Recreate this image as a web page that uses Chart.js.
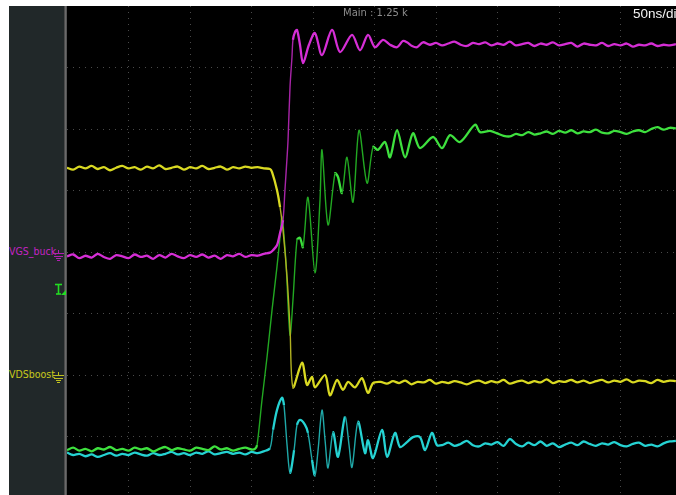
<!DOCTYPE html>
<html>
<head>
<meta charset="utf-8">
<script src="https://cdn.jsdelivr.net/npm/chart.js@4/dist/chart.umd.min.js"></script>
<style>
  html, body { margin: 0; padding: 0; background: #fff; }
  body { width: 676px; height: 495px; position: relative; overflow: hidden; font-family: "DejaVu Sans", sans-serif; }
  #panel { position: absolute; left: 9px; top: 6px; width: 55px; height: 489px; background: #212829; }
  #sep { position: absolute; left: 64px; top: 6px; width: 3px; height: 489px; background: linear-gradient(to right, #3c3c3c, #6a6a6a, #4a4a4a); }
  #scope { position: absolute; left: 67px; top: 6px; width: 609px; height: 489px; background: #000; }
  #scopeChart { position: absolute; left: 0; top: 0; }
  .lbl { position: absolute; font-family: "DejaVu Sans Condensed", "DejaVu Sans", sans-serif; font-size: 10.5px; white-space: nowrap; }
  .info { position: absolute; white-space: nowrap; }
  svg.mark { position: absolute; }
</style>
</head>
<body>
<div id="panel"></div>
<div id="sep"></div>
<div id="scope"><canvas id="scopeChart" width="609" height="489"></canvas></div>

<div class="lbl" style="left:9px; top:245px; color:#c424c4;">VGS_buck</div>
<svg class="mark" style="left:53px; top:250px;" width="12" height="12">
  <g stroke="#b020b0" stroke-width="1">
    <line x1="5.5" y1="0" x2="5.5" y2="4"/>
    <line x1="0" y1="3.5" x2="11" y2="3.5"/>
    <line x1="1" y1="6.5" x2="10" y2="6.5"/>
    <line x1="3" y1="8.5" x2="8" y2="8.5"/>
    <line x1="4" y1="10.5" x2="7" y2="10.5"/>
  </g>
</svg>

<svg class="mark" style="left:54px; top:283px;" width="12" height="13">
  <g stroke="#22dd22" stroke-width="1.6" fill="none">
    <line x1="1" y1="1.5" x2="8" y2="1.5"/>
    <line x1="4.5" y1="1.5" x2="4.5" y2="11"/>
    <line x1="2" y1="11" x2="7" y2="11"/>
  </g>
  <polygon points="7,12 12,12 12,7" fill="#22dd22"/>
</svg>

<div class="lbl" style="left:9px; top:368px; color:#c8c81c;">VDSboost</div>
<svg class="mark" style="left:53px; top:372px;" width="12" height="12">
  <g stroke="#c0c020" stroke-width="1">
    <line x1="5.5" y1="0" x2="5.5" y2="4"/>
    <line x1="0" y1="3.5" x2="11" y2="3.5"/>
    <line x1="1" y1="6.5" x2="10" y2="6.5"/>
    <line x1="3" y1="8.5" x2="8" y2="8.5"/>
    <line x1="4" y1="10.5" x2="7" y2="10.5"/>
  </g>
</svg>

<div class="info" style="left:343px; top:7px; font-size:10px; color:#8c8c8c;">Main : 1.25 k</div>
<div class="info" style="left:633px; top:6px; font-family:'Liberation Sans', sans-serif; font-size:13.5px; color:#f4f4f4;">50ns/div</div>

<script>
// time base: 50 ns/div, 9.9 divisions visible
const X_MAX = 495.1;
const Y_MIN = 0.05;
const Y_MAX = 8;
const xGridNs = [50, 100, 150, 200, 250, 300, 350, 400, 450];
const yGridDiv = [1, 2, 3, 4, 5, 6, 7];

function steps(from, to, step) {
    const out = [];
    for (let t = from; t <= to + 1e-6; t += step) out.push(t);
    return out;
}

// VGS_buck (magenta), values in divisions
const magentaTimes = [
    ...steps(0, 165, 5),
    167.5, 170.7, 173.2, 175.6, 177.2, 178.9, 179.7, 181.3, 182.9, 183.7, 185.4, 187,
    189.4, 191.9, 196.7, 201.6, 207.3, 215.4, 222, 231.7, 238.2, 244.7, 250.4, 256.9,
    262.6, 268.3, 273, 276.4, 280.5, 284.6, 289.4, 295,
    ...steps(300, 495, 5)
];
const magentaValues = [
    3.93, 3.96, 3.90, 3.94, 3.91, 3.97, 3.92, 3.89, 3.95, 3.93, 3.90, 3.96, 3.92, 3.94, 3.89, 3.95, 3.91,
    3.97, 3.93, 3.90, 3.95, 3.92, 3.96, 3.91, 3.94, 3.89, 3.95, 3.93, 3.97, 3.92, 3.95, 3.94, 3.97, 3.99,
    4.03, 4.11, 4.31, 4.52, 5.01, 5.54, 5.82, 6.68, 7.17, 7.45, 7.58, 7.61,
    7.37, 7.07, 7.37, 7.56, 7.20, 7.61, 7.25, 7.53, 7.28, 7.53, 7.33, 7.45,
    7.37, 7.33, 7.43, 7.41, 7.35, 7.33, 7.41, 7.37,
    7.40, 7.36, 7.39, 7.42, 7.37, 7.35, 7.40, 7.38, 7.41, 7.36, 7.39, 7.37, 7.42, 7.36, 7.38, 7.40,
    7.35, 7.39, 7.37, 7.41, 7.36, 7.38, 7.40, 7.34, 7.39, 7.37, 7.36, 7.40, 7.35, 7.38, 7.36, 7.39,
    7.34, 7.37, 7.36, 7.39, 7.35, 7.37, 7.36, 7.38
];

// VDSboost (yellow)
const yellowTimes = [
    ...steps(0, 165, 5),
    166.7, 170.7, 173.2, 175.6, 178.9, 181.3, 183.7, 191.1, 195.1, 199.2, 201.6, 209.8,
    213.8, 219.5, 224.4, 228.5, 234.1, 239.8, 244.7, 248.8,
    ...steps(255, 495, 5)
];
const yellowValues = [
    5.37, 5.34, 5.39, 5.36, 5.40, 5.35, 5.38, 5.33, 5.37, 5.40, 5.36, 5.38, 5.34, 5.39, 5.36, 5.41, 5.35,
    5.37, 5.39, 5.34, 5.38, 5.36, 5.40, 5.35, 5.37, 5.39, 5.34, 5.38, 5.36, 5.39, 5.37, 5.38, 5.36, 5.35,
    5.30, 5.01, 4.73, 4.36, 3.59, 2.78, 1.80, 2.20, 1.84, 1.97, 1.80, 2.00,
    1.67, 1.92, 1.76, 1.89, 1.80, 1.95, 1.71, 1.87,
    1.89, 1.86, 1.90, 1.87, 1.91, 1.85, 1.89, 1.88, 1.92, 1.86, 1.89, 1.87, 1.90, 1.88, 1.85, 1.89,
    1.91, 1.87, 1.90, 1.88, 1.92, 1.86, 1.89, 1.91, 1.87, 1.90, 1.88, 1.93, 1.87, 1.90, 1.89, 1.92,
    1.88, 1.91, 1.87, 1.90, 1.92, 1.88, 1.91, 1.89, 1.93, 1.88, 1.91, 1.90, 1.87, 1.92, 1.89, 1.91,
    1.90
];

// green channel
const greenTimes = [
    ...steps(0, 150, 5),
    152.8, 154.5, 158.5, 162.6, 166.7, 170.7, 173.2, 174.8, 177.9, 181.3, 183.7, 187,
    189.4, 191.9, 195.9, 201.6, 205.7, 207.3, 212.2, 217.9, 220.3, 223.6, 227.6, 232.5,
    237.4, 243.9, 248.8, 252.8, 258.5, 262.6, 268.3, 274.8, 281.3, 287, 297.6, 304.9,
    311.4, 319.5, 331.7, 335.8, 343.9, 349.6, 355,
    ...steps(360, 495, 5)
];
const greenValues = [
    0.78, 0.82, 0.77, 0.80, 0.76, 0.81, 0.79, 0.83, 0.78, 0.80, 0.77, 0.82, 0.79, 0.81, 0.76, 0.80,
    0.83, 0.78, 0.81, 0.79, 0.77, 0.82, 0.80, 0.78, 0.84, 0.79, 0.81, 0.77, 0.80, 0.82, 0.79,
    0.80, 0.86, 1.59, 2.29, 3.06, 3.76, 4.24, 4.57, 3.87, 2.65, 3.22, 4.20,
    4.23, 4.08, 4.89, 3.66, 4.85, 5.66, 4.44, 5.28, 5.22, 4.96, 5.54, 4.81,
    5.98, 5.12, 5.71, 5.66, 5.79, 5.54, 5.98, 5.54, 5.93, 5.69, 5.87, 5.69,
    5.90, 5.79, 6.07, 5.95, 5.97, 5.93, 5.89,
    5.88, 5.92, 5.90, 5.95, 5.91, 5.93, 5.96, 5.92, 5.97, 5.94, 5.98, 5.93, 5.96, 5.95,
    5.99, 5.94, 5.93, 5.97, 5.95, 5.92, 5.96, 5.98, 5.95, 6.00, 6.03, 5.99, 6.02, 6.01
];

// cyan channel
const cyanTimes = [
    ...steps(0, 165, 5),
    167.5, 170.7, 174.8, 176.4, 178.9, 181.3, 184.6, 187, 189.4, 193.5, 195.9, 199.2,
    201.6, 204.1, 207.3, 209.8, 212.2, 216.3, 220.3, 226, 229.3, 231.7, 236.6, 242.3,
    244.7, 248.8, 256.1, 260.2, 266.7, 270.7, 276.4, 281.3, 287, 291.1, 296.7, 300.8,
    ...steps(305, 495, 5)
];
const cyanValues = [
    0.74, 0.70, 0.72, 0.68, 0.71, 0.67, 0.70, 0.73, 0.69, 0.72, 0.70, 0.74, 0.71, 0.69, 0.73, 0.70, 0.72,
    0.75, 0.71, 0.73, 0.70, 0.74, 0.72, 0.76, 0.71, 0.73, 0.75, 0.72, 0.74, 0.71, 0.75, 0.73, 0.76, 0.81,
    1.11, 1.43, 1.63, 1.51, 0.86, 0.41, 0.78, 1.19, 1.27, 1.19, 1.06, 0.62,
    0.37, 0.78, 1.43, 0.94, 0.49, 1.07, 0.67, 1.32, 0.86, 0.50, 1.24, 0.73,
    0.94, 0.65, 1.11, 0.67, 1.06, 0.83, 0.91, 0.99, 0.99, 0.78, 1.06, 0.86,
    0.86, 0.90, 0.85, 0.88, 0.93, 0.86, 0.84, 0.89, 0.87, 0.91, 0.85, 0.96, 0.88, 0.84, 0.90, 0.86,
    0.92, 0.85, 0.89, 0.83, 0.87, 0.90, 0.86, 0.92, 0.88, 0.85, 0.89, 0.87, 0.91, 0.86, 0.84, 0.88,
    0.90, 0.85, 0.87, 0.84, 0.89, 0.92, 0.93
];

function toPoints(times, values) {
    return times.map((t, i) => ({ x: t, y: values[i] }));
}

// fast edges look faint on the scope, like sparse samples
function trace(label, times, values, color, faint, order) {
    const steep = c => {
        const dx = Math.max(c.p1.parsed.x - c.p0.parsed.x, 0.01);
        return Math.abs(c.p1.parsed.y - c.p0.parsed.y) / dx > 0.12;
    };
    return {
        label: label,
        data: toPoints(times, values),
        borderColor: color,
        borderWidth: 2.3,
        pointRadius: 0,
        tension: 0.3,
        order: order,
        segment: {
            borderColor: c => steep(c) ? faint : undefined,
            borderWidth: c => steep(c) ? 1.4 : undefined
        }
    };
}

const GRID = '#4a4a4a';

const ctx = document.getElementById('scopeChart').getContext('2d');
const chart = new Chart(ctx, {
    type: 'line',
    data: {
        datasets: [
            trace('VGS_buck', magentaTimes, magentaValues, '#d52ed5', '#a825a8', 1),
            trace('VDSboost', yellowTimes, yellowValues, '#d9d922', '#b0b020', 2),
            trace('green', greenTimes, greenValues, '#3ee03e', '#22a822', 3),
            trace('cyan', cyanTimes, cyanValues, '#25d2d2', '#1fa8a8', 4)
        ]
    },
    options: {
        responsive: false,
        animation: false,
        devicePixelRatio: 1,
        layout: { padding: 0 },
        plugins: {
            legend: { display: false },
            tooltip: { enabled: false }
        },
        scales: {
            x: {
                type: 'linear',
                min: 0,
                max: X_MAX,
                ticks: { display: false },
                grid: { color: GRID, drawTicks: false, lineWidth: 1 },
                border: { display: false, dash: [1, 5] },
                afterBuildTicks: s => { s.ticks = xGridNs.map(v => ({ value: v })); }
            },
            y: {
                type: 'linear',
                min: Y_MIN,
                max: Y_MAX,
                ticks: { display: false },
                grid: { color: GRID, drawTicks: false, lineWidth: 1 },
                border: { display: false, dash: [1, 5] },
                afterBuildTicks: s => { s.ticks = yGridDiv.map(v => ({ value: v })); }
            }
        }
    }
});
</script>
</body>
</html>
